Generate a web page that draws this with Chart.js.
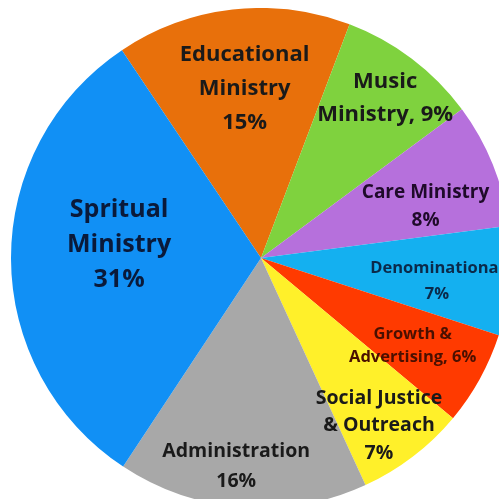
<!DOCTYPE html>
<html>
<head>
<meta charset="utf-8">
<script src="https://cdn.jsdelivr.net/npm/chart.js@4"></script>
<style>
  html, body { margin: 0; padding: 0; background: #ffffff; overflow: hidden; width: 499px; height: 499px; }
  #wrap { position: absolute; left: 11px; top: 8px; width: 500px; height: 500px; }
</style>
</head>
<body>
<div id="wrap"><canvas id="c" width="500" height="500"></canvas></div>
<script>
// ---- data ----
const categories = ["Educational Ministry", "Music Ministry", "Care Ministry", "Denominational",
                    "Growth & Advertising", "Social Justice & Outreach", "Administration", "Spritual Ministry"];
const values = [15, 9, 8, 7, 6, 7, 16, 31];
const labelLines = [
  ["Educational", "Ministry", "15%"],
  ["Music", "Ministry, 9%"],
  ["Care Ministry", "8%"],
  ["Denominational", "7%"],
  ["Growth &", "Advertising, 6%"],
  ["Social Justice", "& Outreach", "7%"],
  ["Administration", "16%"],
  ["Spritual", "Ministry", "31%"]
];

// ---- styles ----
const colors = ["#e8700b", "#7fd23e", "#b670dc", "#14b0f0", "#ff3a00", "#fff02a", "#a8a8a8", "#1190f5"];
const textColors = ["#1a1a1a", "#1a1a1a", "#1f0a2a", "#0b2a4a", "#4a1000", "#1a1a1a", "#1a1a1a", "#0a1a3a"];
const labelRadius = [0.68, 0.81, 0.69, 0.71, 0.70, 0.82, 0.84, 0.57];
const labelAngleShift = [1, 0.7, 4.5, 2.4, 1, 2.3, 2.4, 5.4];
const fontSizes = [22, 22, 19, 16.5, 16.5, 19.5, 19.5, 25];
const lineHeights = [34, 33, 28, 26, 23, 27.5, 30, 35];

const labelPlugin = {
  id: 'sliceLabels',
  afterDatasetsDraw(chart) {
    const ctx = chart.ctx;
    const meta = chart.getDatasetMeta(0);
    meta.data.forEach((arc, i) => {
      const p = arc.getProps(['x', 'y', 'startAngle', 'endAngle', 'outerRadius'], true);
      const mid = (p.startAngle + p.endAngle) / 2 + labelAngleShift[i] * Math.PI / 180;
      const r = p.outerRadius * labelRadius[i];
      const cx = p.x + Math.cos(mid) * r;
      const cy = p.y + Math.sin(mid) * r;
      const lines = labelLines[i];
      const lh = lineHeights[i];
      ctx.save();
      ctx.font = "bold " + fontSizes[i] + "px 'Open Sans', sans-serif";
      ctx.fillStyle = textColors[i];
      ctx.textAlign = 'center';
      ctx.textBaseline = 'middle';
      const top = cy - (lines.length - 1) * lh / 2;
      lines.forEach((t, k) => ctx.fillText(t, cx, top + k * lh));
      ctx.restore();
    });
  }
};

new Chart(document.getElementById('c'), {
  type: 'pie',
  data: {
    labels: categories,
    datasets: [{
      data: values,
      backgroundColor: colors,
      borderWidth: 0
    }]
  },
  options: {
    responsive: false,
    animation: false,
    rotation: -33.8,
    layout: { padding: 0 },
    plugins: {
      legend: { display: false },
      tooltip: { enabled: false }
    }
  },
  plugins: [labelPlugin]
});
</script>
</body>
</html>
